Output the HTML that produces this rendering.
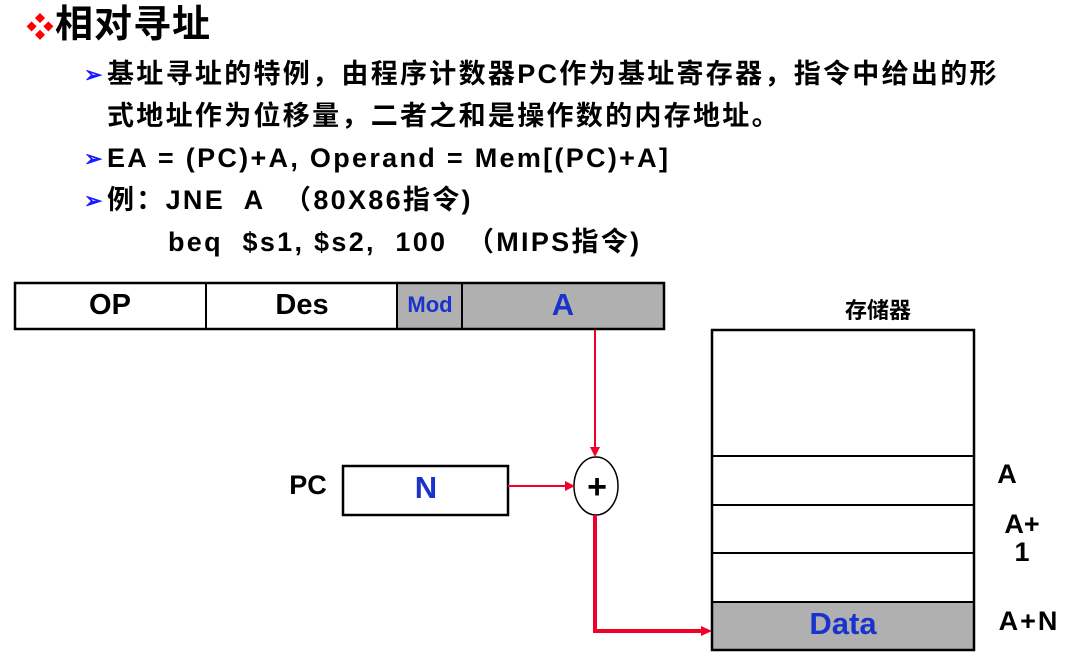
<!DOCTYPE html>
<html><head><meta charset="utf-8"><style>
body{margin:0;width:1072px;height:665px;background:#fff;overflow:hidden;position:relative;font-family:"Liberation Sans","Noto Sans CJK SC",sans-serif;font-weight:bold;color:#000}
.t{position:absolute;white-space:nowrap;font-size:27px;letter-spacing:2.3px;line-height:42px}
.b{position:absolute;color:#1a1aff;font-size:22px}
</style></head><body>
<div class="t" style="left:26px;top:2px;font-size:38px;letter-spacing:1px;line-height:46px"><span style="color:#f00;font-size:28px">❖</span>相对寻址</div>
<div class="b" style="left:84px;top:62px">➢</div>
<div class="t" style="left:107px;top:53px;">基址寻址的特例，由程序计数器PC作为基址寄存器，指令中给出的形<br>式地址作为位移量，二者之和是操作数的内存地址。</div>
<div class="b" style="left:84px;top:146px">➢</div>
<div class="t" style="left:107px;top:137px">EA = (PC)+A, Operand = Mem[(PC)+A]</div>
<div class="b" style="left:84px;top:188px">➢</div>
<div class="t" style="left:107px;top:179px">例：JNE&nbsp; A &nbsp;（80X86指令)</div>
<div class="t" style="left:168px;top:221px">beq&nbsp; $s1, $s2,&nbsp; 100 &nbsp;（MIPS指令)</div>
<svg style="position:absolute;left:0;top:0" width="1072" height="665">
<rect x="397" y="283" width="267" height="46" fill="#b0b0b0"/>
<rect x="15" y="283" width="649" height="46" fill="none" stroke="#000" stroke-width="2.5"/>
<line x1="206" y1="283" x2="206" y2="329" stroke="#000" stroke-width="2"/>
<line x1="397" y1="283" x2="397" y2="329" stroke="#000" stroke-width="2"/>
<line x1="462" y1="283" x2="462" y2="329" stroke="#000" stroke-width="2"/>
<rect x="343" y="466" width="165" height="49" fill="none" stroke="#000" stroke-width="2.5"/>
<ellipse cx="596" cy="486" rx="22" ry="29" fill="none" stroke="#000" stroke-width="1.5"/>
<line x1="595" y1="330" x2="595" y2="448" stroke="#f0002a" stroke-width="2"/>
<polygon points="590,447 600,447 595,457" fill="#f0002a"/>
<line x1="508" y1="486" x2="566" y2="486" stroke="#f0002a" stroke-width="2"/>
<polygon points="565,481 575,486 565,491" fill="#f0002a"/>
<polyline points="595,515 595,631 702,631" fill="none" stroke="#f0002a" stroke-width="4"/>
<polygon points="701,626 712,631 701,636" fill="#f0002a"/>
<rect x="712" y="602" width="262" height="48" fill="#b0b0b0"/>
<rect x="712" y="330" width="262" height="320" fill="none" stroke="#000" stroke-width="2.5"/>
<line x1="712" y1="456" x2="974" y2="456" stroke="#000" stroke-width="2"/>
<line x1="712" y1="505" x2="974" y2="505" stroke="#000" stroke-width="2"/>
<line x1="712" y1="553" x2="974" y2="553" stroke="#000" stroke-width="2"/>
<line x1="712" y1="602" x2="974" y2="602" stroke="#000" stroke-width="2"/>
<g font-family="Liberation Sans, Noto Sans CJK SC, sans-serif" font-weight="bold" text-anchor="middle">
<text x="110" y="314" font-size="29">OP</text>
<text x="302" y="314" font-size="29">Des</text>
<text x="430" y="312" font-size="22" fill="#1a33cc">Mod</text>
<text x="563" y="315" font-size="31" fill="#1a33cc">A</text>
<text x="308" y="494" font-size="27">PC</text>
<text x="426" y="498" font-size="31" fill="#1a33cc">N</text>
<text x="597" y="498" font-size="34">+</text>
<text x="878" y="318" font-size="22">存储器</text>
<text x="1007" y="483" font-size="27">A</text>
<text x="1022" y="533" font-size="27">A+</text>
<text x="1022" y="561" font-size="27">1</text>
<text x="1029" y="630" font-size="27" letter-spacing="2">A+N</text>
<text x="843" y="634" font-size="31" fill="#1a33cc">Data</text>
</g>
</svg>
</body></html>
